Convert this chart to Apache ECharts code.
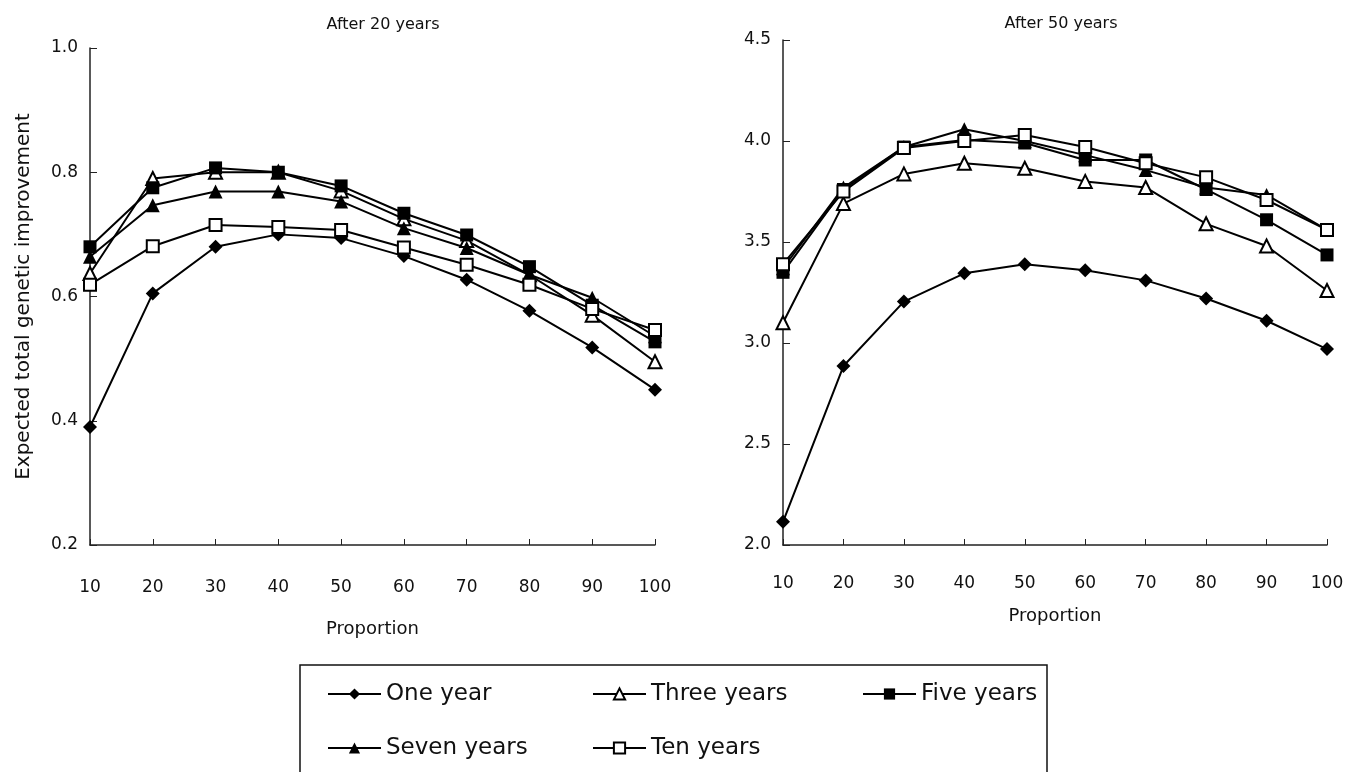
<!DOCTYPE html>
<html>
<head>
<meta charset="utf-8">
<script src="https://cdn.jsdelivr.net/npm/echarts@6/dist/echarts.min.js"></script>
<style>
  html, body { margin: 0; padding: 0; background: #fff; }
  #chart { width: 1358px; height: 772px; }
</style>
</head>
<body>
<div id="chart"></div>
<script>
// proportions on the x axis
const proportions = ['10', '20', '30', '40', '50', '60', '70', '80', '90', '100']
const seriesNames = ['One year', 'Three years', 'Five years', 'Seven years', 'Ten years']

// after 20 years
const oneYear20 = [0.39, 0.605, 0.68, 0.70, 0.694, 0.665, 0.627, 0.577, 0.518, 0.45]
const threeYears20 = [0.637, 0.79, 0.80, 0.80, 0.77, 0.725, 0.69, 0.635, 0.57, 0.495]
const fiveYears20 = [0.68, 0.775, 0.807, 0.80, 0.778, 0.734, 0.699, 0.648, 0.586, 0.527]
const sevenYears20 = [0.664, 0.747, 0.769, 0.769, 0.753, 0.71, 0.678, 0.635, 0.598, 0.536]
const tenYears20 = [0.619, 0.681, 0.715, 0.712, 0.707, 0.679, 0.651, 0.619, 0.58, 0.546]

// after 50 years
const oneYear50 = [2.115, 2.886, 3.205, 3.345, 3.39, 3.36, 3.31, 3.22, 3.11, 2.97]
const threeYears50 = [3.10, 3.69, 3.837, 3.89, 3.865, 3.80, 3.77, 3.59, 3.48, 3.26]
const fiveYears50 = [3.35, 3.76, 3.97, 4.005, 3.99, 3.906, 3.906, 3.76, 3.61, 3.436]
const sevenYears50 = [3.37, 3.77, 3.97, 4.058, 4.00, 3.93, 3.856, 3.77, 3.733, 3.56]
const tenYears50 = [3.39, 3.75, 3.965, 4.00, 4.03, 3.97, 3.89, 3.82, 3.708, 3.56]

const font = 'DejaVu Sans'
const axisColor = '#222'

// marker style for each series
const markers = {
  'One year': { symbol: 'diamond', size: 14, fill: '#000' },
  'Three years': { symbol: 'triangle', size: 13, fill: '#fff' },
  'Five years': { symbol: 'rect', size: 13, fill: '#000' },
  'Seven years': { symbol: 'triangle', size: 14, fill: '#000' },
  'Ten years': { symbol: 'rect', size: 12, fill: '#fff' }
}

function makeSeries (name, data, idx) {
  const m = markers[name]
  return {
    name: name,
    type: 'line',
    xAxisIndex: idx,
    yAxisIndex: idx,
    data: data,
    symbol: m.symbol,
    symbolSize: m.size,
    showAllSymbol: true,
    lineStyle: { color: '#000', width: 2 },
    itemStyle: { color: m.fill, borderColor: '#000', borderWidth: m.fill === '#fff' ? 2 : 0 },
    emphasis: { disabled: true },
    animation: false,
    z: 2
  }
}

function xAxisOf (idx) {
  return {
    type: 'category',
    gridIndex: idx,
    data: proportions,
    boundaryGap: false,
    name: 'Proportion',
    nameLocation: 'middle',
    nameGap: idx === 0 ? 75 : 62,
    nameTextStyle: { fontFamily: font, fontSize: 18, color: '#111' },
    axisLine: { lineStyle: { color: axisColor, width: 1.5 } },
    axisTick: { inside: true, alignWithLabel: true, length: 6, lineStyle: { color: axisColor } },
    axisLabel: { margin: idx === 0 ? 34 : 30, fontFamily: font, fontSize: 17, color: '#111' },
    splitLine: { show: false }
  }
}

function yAxisOf (idx, min, max, interval) {
  return {
    type: 'value',
    gridIndex: idx,
    min: min,
    max: max,
    interval: interval,
    name: idx === 0 ? 'Expected total genetic improvement' : '',
    nameLocation: 'middle',
    nameGap: 56,
    nameTextStyle: { fontFamily: font, fontSize: 20, color: '#111' },
    axisLine: { show: true, lineStyle: { color: axisColor, width: 1.5 } },
    axisTick: { show: true, inside: true, length: 7, lineStyle: { color: axisColor } },
    axisLabel: {
      margin: 12,
      fontFamily: font,
      fontSize: 17,
      color: '#111',
      formatter: v => v.toFixed(1)
    },
    splitLine: { show: false }
  }
}

const chart = echarts.init(document.getElementById('chart'), null, { renderer: 'canvas' })

const legendBase = {
  orient: 'vertical',
  top: 677,
  itemGap: 30,
  itemWidth: 53,
  itemHeight: 14,
  selectedMode: false,
  textStyle: { fontFamily: font, fontSize: 23, lineHeight: 24, color: '#111' }
}

chart.setOption({
  backgroundColor: '#fff',
  title: [
    { text: 'After 20 years', left: 378, top: 12, textAlign: 'center',
      textStyle: { fontFamily: font, fontSize: 16, fontWeight: 'normal', color: '#111' } },
    { text: 'After 50 years', left: 1056, top: 11, textAlign: 'center',
      textStyle: { fontFamily: font, fontSize: 16, fontWeight: 'normal', color: '#111' } }
  ],
  grid: [
    { left: 90, right: 703, top: 48, bottom: 227 },
    { left: 783, right: 31, top: 40, bottom: 227 }
  ],
  xAxis: [xAxisOf(0), xAxisOf(1)],
  yAxis: [yAxisOf(0, 0.2, 1.0, 0.2), yAxisOf(1, 2.0, 4.5, 0.5)],
  legend: [
    Object.assign({}, legendBase, { left: 322, data: ['One year', 'Seven years'] }),
    Object.assign({}, legendBase, { left: 587, data: ['Three years', 'Ten years'] }),
    Object.assign({}, legendBase, { left: 857, data: ['Five years'] })
  ],
  graphic: [
    {
      type: 'rect',
      shape: { x: 300, y: 665, width: 747, height: 120 },
      style: { fill: 'none', stroke: '#111', lineWidth: 1.5 },
      silent: true
    }
  ],
  series: [
    makeSeries('One year', oneYear20, 0),
    makeSeries('Three years', threeYears20, 0),
    makeSeries('Five years', fiveYears20, 0),
    makeSeries('Seven years', sevenYears20, 0),
    makeSeries('Ten years', tenYears20, 0),
    makeSeries('One year', oneYear50, 1),
    makeSeries('Three years', threeYears50, 1),
    makeSeries('Five years', fiveYears50, 1),
    makeSeries('Seven years', sevenYears50, 1),
    makeSeries('Ten years', tenYears50, 1)
  ]
})
</script>
</body>
</html>
